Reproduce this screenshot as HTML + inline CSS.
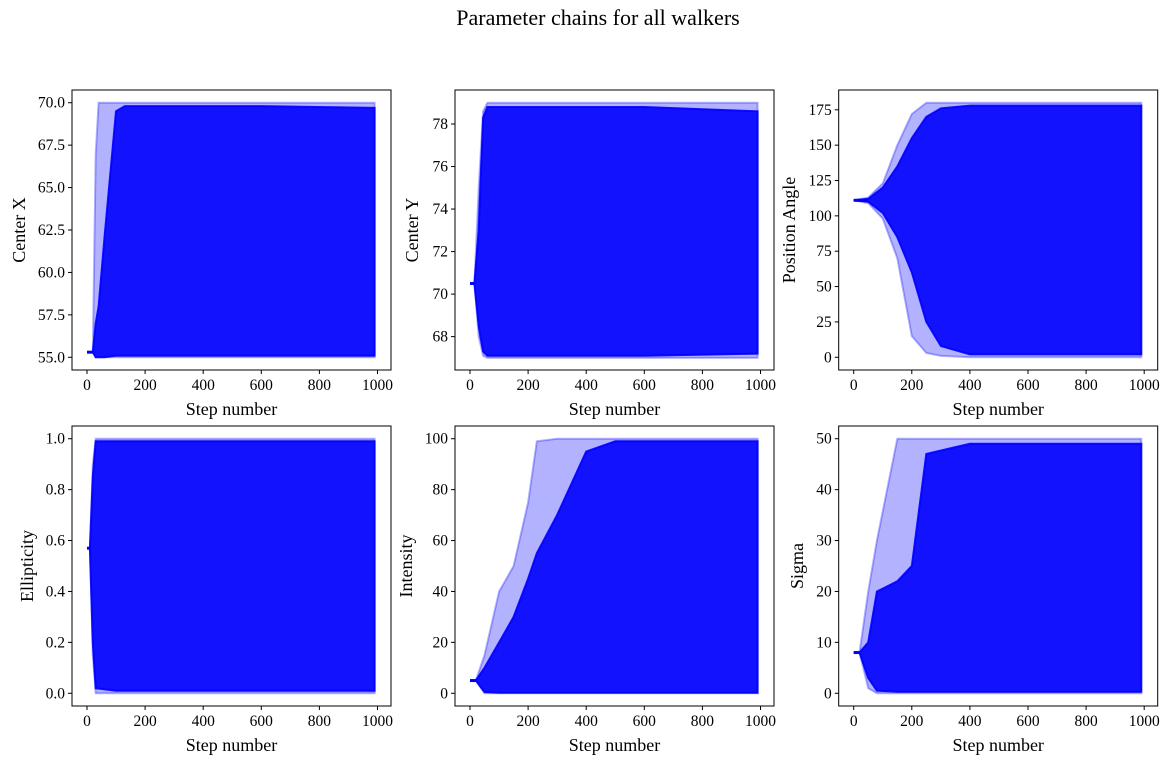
<!DOCTYPE html>
<html><head><meta charset="utf-8"><style>
html,body{margin:0;padding:0;background:#fff;}
svg{display:block;font-family:"Liberation Serif",serif;}
</style></head><body>
<svg id="fig" width="1169" height="765" viewBox="0 0 1169 765">
<text x="598" y="25" font-size="22" text-anchor="middle">Parameter chains for all walkers</text>
</svg>
<script>
const labels = ["Center X","Center Y","Position Angle","Ellipticity","Intensity","Sigma"];
const xTicks = [0,200,400,600,800,1000];
const yTicks1 = ["55.0","57.5","60.0","62.5","65.0","67.5","70.0"];
const yTicks2 = [68,70,72,74,76,78];
const yTicks3 = [0,25,50,75,100,125,150,175];
const yTicks4 = ["0.0","0.2","0.4","0.6","0.8","1.0"];
const yTicks5 = [0,20,40,60,80,100];
const yTicks6 = [0,10,20,30,40,50];
const yLims = [[54.25,70.75],[66.43,79.6],[-9,189],[-0.05,1.05],[-5,105],[-2.5,52.5]];

const steps1 = [0,20,30,40,60,100,130,300,600,990];
const outerHi1 = [55.3,55.3,67,70,70,70,70,70,70,70];
const innerHi1 = [55.3,55.3,57,58,62,69.5,69.8,69.8,69.8,69.7];
const innerLo1 = [55.3,55.3,55.0,55.0,55.0,55.1,55.1,55.1,55.1,55.1];
const outerLo1 = [55.3,55.3,55.0,55.0,55.0,55.0,55.0,55.0,55.0,55.0];

const steps2 = [0,15,30,45,60,300,600,990];
const outerHi2 = [70.5,70.5,75,78.6,79,79,79,79];
const innerHi2 = [70.5,70.5,73,78.3,78.8,78.8,78.8,78.6];
const innerLo2 = [70.5,70.5,68.5,67.3,67.1,67.1,67.1,67.2];
const outerLo2 = [70.5,70.5,68,67.1,67,67,67,67];

const steps3 = [0,50,100,150,200,250,300,400,600,990];
const outerHi3 = [111,113,123,150,172,180,180,180,180,180];
const innerHi3 = [111,112,120,135,155,170,176,178,178,178];
const innerLo3 = [111,110,102,85,60,25,8,2,2,2];
const outerLo3 = [111,109,98,70,15,3,1,0,0,0];

const steps4 = [0,10,20,30,100,500,990];
const outerHi4 = [0.57,0.57,0.9,1.0,1.0,1.0,1.0];
const innerHi4 = [0.57,0.57,0.85,0.99,0.99,0.99,0.99];
const innerLo4 = [0.57,0.57,0.2,0.02,0.01,0.01,0.01];
const outerLo4 = [0.57,0.57,0.15,0.0,0.0,0.0,0.0];

const steps5 = [0,20,50,100,150,200,230,300,400,500,990];
const outerHi5 = [5,5,15,40,50,75,99,100,100,100,100];
const innerHi5 = [5,5,10,20,30,45,55,70,95,99,99];
const innerLo5 = [5,5,0.5,0.2,0.2,0.2,0.2,0.2,0.2,0.2,0.2];
const outerLo5 = [5,5,0,0,0,0,0,0,0,0,0];

const steps6 = [0,20,50,80,150,200,250,400,990];
const outerHi6 = [8,8,20,30,50,50,50,50,50];
const innerHi6 = [8,8,10,20,22,25,47,49,49];
const innerLo6 = [8,8,3,0.5,0.3,0.3,0.3,0.3,0.3];
const outerLo6 = [8,8,1,0,0,0,0,0,0];

const panels = [
 {steps:steps1,oh:outerHi1,ih:innerHi1,il:innerLo1,ol:outerLo1,ticks:yTicks1},
 {steps:steps2,oh:outerHi2,ih:innerHi2,il:innerLo2,ol:outerLo2,ticks:yTicks2},
 {steps:steps3,oh:outerHi3,ih:innerHi3,il:innerLo3,ol:outerLo3,ticks:yTicks3},
 {steps:steps4,oh:outerHi4,ih:innerHi4,il:innerLo4,ol:outerLo4,ticks:yTicks4},
 {steps:steps5,oh:outerHi5,ih:innerHi5,il:innerLo5,ol:outerLo5,ticks:yTicks5},
 {steps:steps6,oh:outerHi6,ih:innerHi6,il:innerLo6,ol:outerLo6,ticks:yTicks6}
];
const NS="http://www.w3.org/2000/svg";
const svg=document.getElementById('fig');
function mk(tag,attrs,parent){const e=document.createElementNS(NS,tag);for(const k in attrs)e.setAttribute(k,attrs[k]);(parent||svg).appendChild(e);return e;}
const colL=[72,455,838.7], rowT=[90,426], W=319, H=280;
const labelCx=[19,412,789,27,406,797];
panels.forEach((p,i)=>{
  const L=colL[i%3], T=rowT[Math.floor(i/3)];
  const xs=v=>L+15+(v/1000)*290.5;
  const [y0,y1]=yLims[i];
  const ys=v=>T+H-(v-y0)/(y1-y0)*H;
  const g=mk('g',{});
  
  
  function band(hi,lo,op,name){
    let d='';
    p.steps.forEach((s,k)=>{d+=(k?'L':'M')+xs(s).toFixed(1)+','+ys(hi[k]).toFixed(1);});
    for(let k=p.steps.length-1;k>=0;k--)d+='L'+xs(p.steps[k]).toFixed(1)+','+ys(lo[k]).toFixed(1);
    const e=mk('path',{d:d+'Z',fill:'#0000ff','fill-opacity':op,stroke:'#0000ff','stroke-opacity':op,'stroke-width':2},g);
    
    
  }
  band(p.oh,p.ol,0.3,'walker-envelope');
  band(p.ih,p.il,0.9,'walker-core');
  const ini=mk('line',{x1:xs(0),x2:xs(p.steps[1]),y1:ys(p.oh[0]),y2:ys(p.oh[0]),stroke:'#0000ff','stroke-width':3},g);
  
  
  const fr=mk('rect',{x:L,y:T,width:W,height:H,fill:'none',stroke:'#000','stroke-width':1},g);
  
  
  xTicks.forEach(t=>{
    mk('line',{x1:xs(t),x2:xs(t),y1:T+H,y2:T+H+4,stroke:'#000'},g);
    const tx=mk('text',{x:xs(t),y:T+H+20,'font-size':15.5,'text-anchor':'middle'},g);
    tx.textContent=t;
    
    
  });
  p.ticks.forEach(t=>{
    const v=parseFloat(t);
    mk('line',{x1:L-4,x2:L,y1:ys(v),y2:ys(v),stroke:'#000'},g);
    const tx=mk('text',{x:L-7,y:ys(v)+5,'font-size':15.5,'text-anchor':'end'},g);
    tx.textContent=t;
    
    
  });
  const xl=mk('text',{x:L+W/2,y:T+H+45,'font-size':18,'text-anchor':'middle'},g);
  xl.textContent='Step number';
  
  
  const yl=mk('text',{x:0,y:0,'font-size':18,'text-anchor':'middle',transform:`translate(${labelCx[i]+6},${T+H/2}) rotate(-90)`},g);
  yl.textContent=labels[i];
  
  
});
</script>
</body></html>
